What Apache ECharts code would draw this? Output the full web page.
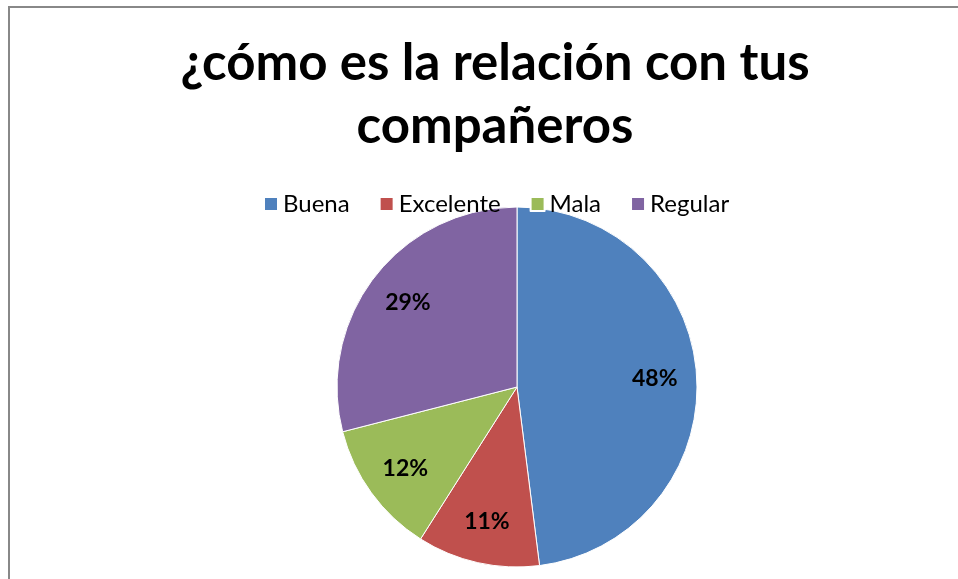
<!DOCTYPE html>
<html>
<head>
<meta charset="utf-8">
<script src="https://cdn.jsdelivr.net/npm/echarts@6/dist/echarts.min.js"></script>
<style>
  html, body { margin: 0; padding: 0; background: #fff; }
  #chart { width: 958px; height: 579px; }
</style>
</head>
<body>
<div id="chart"></div>
<script>
// datos del gráfico
var categorias = ["Buena", "Excelente", "Mala", "Regular"];
var porcentajes = [48, 11, 12, 29];
var colores = ["#4F81BD", "#C0504D", "#9BBB59", "#8064A2"];

var myChart = echarts.init(document.getElementById("chart"));

var data = [];
for (var i = 0; i < categorias.length; i++) {
  data.push({
    name: categorias[i],
    value: porcentajes[i],
    itemStyle: { color: colores[i] }
  });
}

var option = {
  backgroundColor: "#fff",
  animation: false,
  title: {
    text: "¿cómo es la relación con tus\ncompañeros",
    left: 490,
    textAlign: "center",
    top: 27,
    textStyle: {
      fontFamily: "Lato",
      fontWeight: "bold",
      fontSize: 51,
      lineHeight: 63,
      color: "#000"
    }
  },
  legend: {
    top: 187,
    left: 258,
    icon: "rect",
    itemWidth: 14,
    itemHeight: 14,
    itemGap: 29,
    data: categorias,
    textStyle: { fontFamily: "Lato", fontSize: 24, color: "#000" }
  },
  graphic: [{
    type: "rect",
    shape: { x: 9, y: 7, width: 1000, height: 700 },
    style: { fill: "none", stroke: "#888", lineWidth: 2 },
    silent: true
  }],
  series: [
    {
      type: "pie",
      center: [517, 387],
      radius: [0, 180],
      startAngle: 90,
      clockwise: true,
      label: { show: false },
      labelLine: { show: false },
      itemStyle: { borderColor: "#fff", borderWidth: 1 },
      data: data
    },
    {
      // serie transparente solo para colocar las etiquetas
      type: "pie",
      center: [517, 387],
      radius: [90, 180],
      startAngle: 90,
      clockwise: true,
      silent: true,
      itemStyle: { color: "transparent", borderWidth: 0 },
      label: {
        show: true,
        position: "inside",
        formatter: "{c}%",
        fontFamily: "Lato",
        fontWeight: "bold",
        fontSize: 23,
        color: "#000"
      },
      labelLine: { show: false },
      data: data.map(function (d) { return { name: d.name, value: d.value, itemStyle: { color: "transparent" } }; })
    }
  ]
};
myChart.setOption(option);
</script>
</body>
</html>
